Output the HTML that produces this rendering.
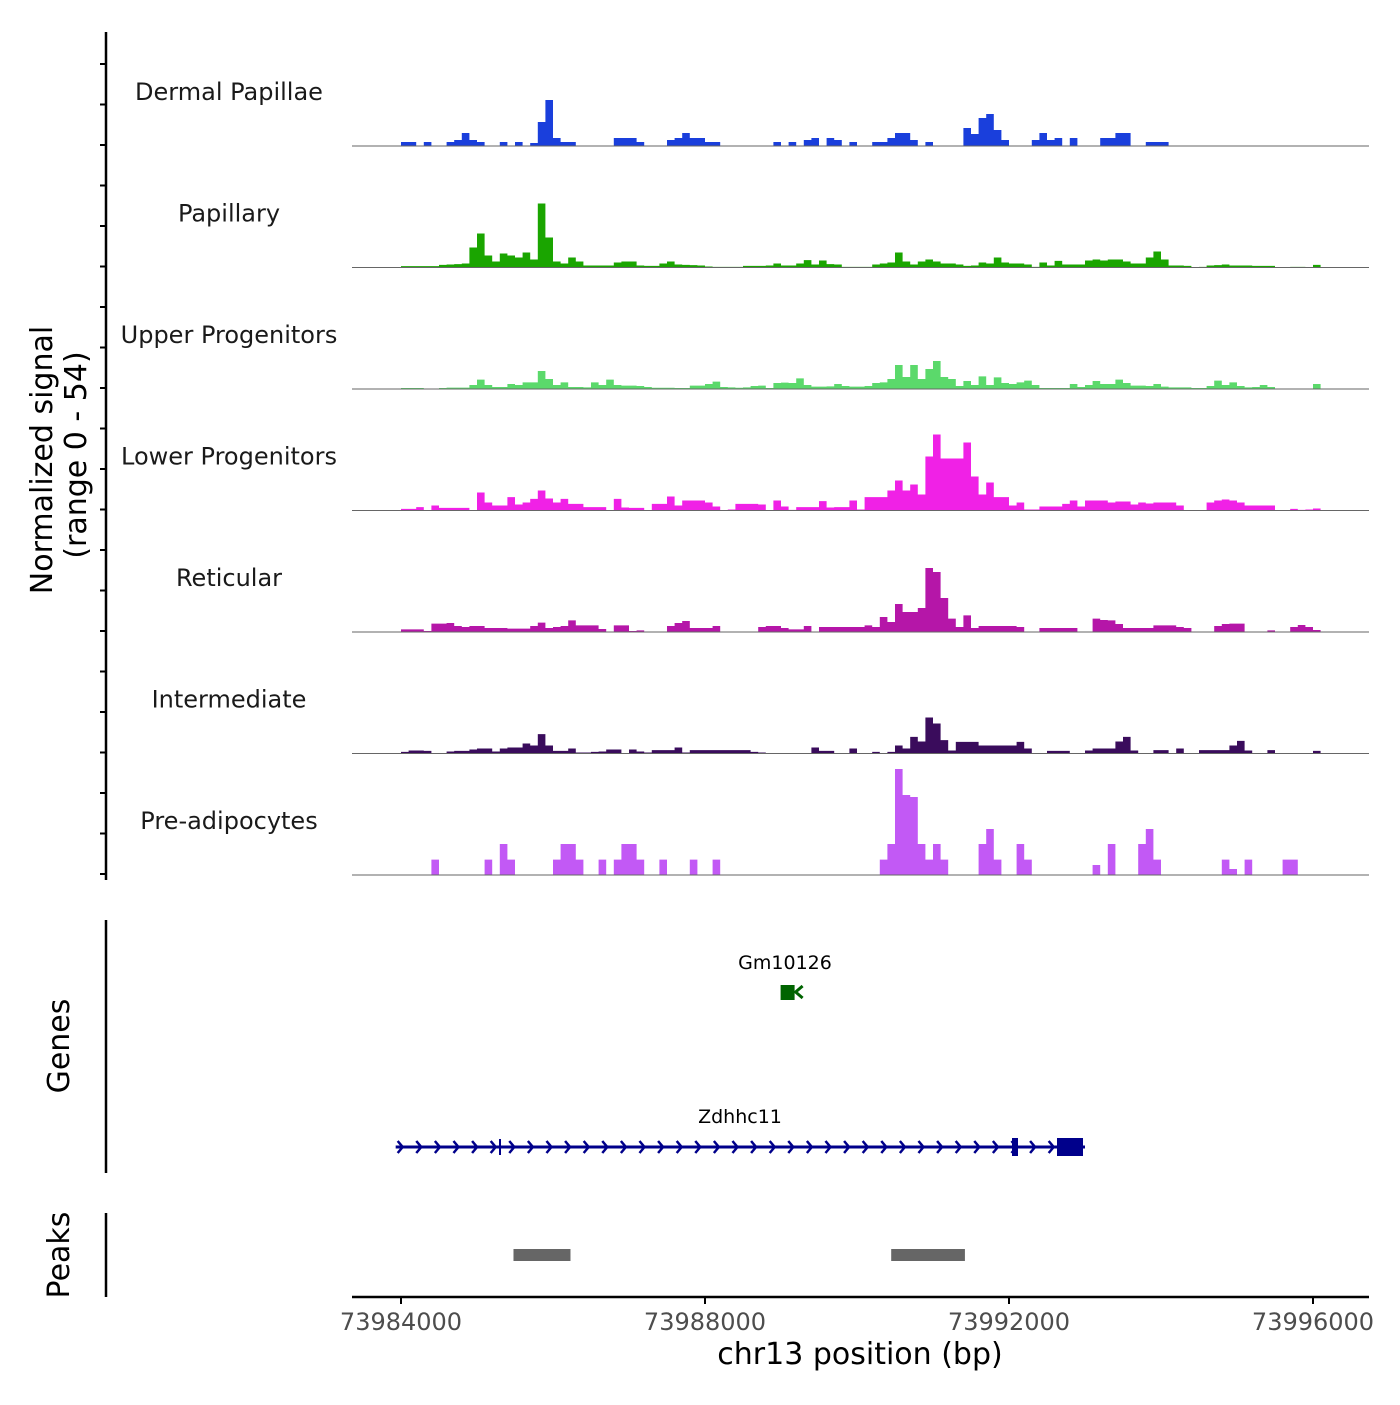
<!DOCTYPE html>
<html><head><meta charset="utf-8"><style>
body{margin:0;background:#fff}
svg text{font-family:"DejaVu Sans","Liberation Sans",sans-serif}
</style></head><body>
<svg id="chart" width="1400" height="1400" viewBox="0 0 1400 1400" xmlns="http://www.w3.org/2000/svg">
<g id="tracks"></g>
<g id="axes"></g>
<g id="genes"></g>
<g id="peaks"></g>
</svg>
<script>
// categories
const trackNames = ["Dermal Papillae","Papillary","Upper Progenitors","Lower Progenitors","Reticular","Intermediate","Pre-adipocytes"];
const trackColors = ["#1a3fdc","#1aa500","#5bd96b","#f021e6","#b516a8","#3a0c5c","#c259f5"];
const binStart = 73984000;
const binSize = 100;
const xTicks = [73984000,73988000,73992000,73996000];
const yMax = 54;
// signal per 100bp bin (values 0-54)
const dermalPapillae = [2,2,0,2,0,0,2,3,6.5,3, 2,0,0,2,0,2,0,1.5,12,23, 4,2,2,0,0,0,0,0,4,4, 4,2,0,0,0,3,4,6.5,4,4, 2,2,0,0,0,0,0,0,0,2, 0,2,0,3,4,0,4,3,0,2, 0,0,2,2,4,6.5,6.5,3,0,2, 0,0,0,0,9,6,14,16,8,3, 0,0,0,3,6.5,3,4,0,4,0, 0,0,4,4,6.5,6.5,0,0,2,2, 2,0,0,0,0,0,0,0,0,0, 0,0,0,0,0,0,0,0,0,0, 0];
const papillary = [0.7,0.7,0.7,0.7,0.7,1.3,1.5,1.7,2,10, 17,6,3,7,6,5,7.5,4,32,15, 3,2,5,3,1,1,1,1,2.5,3, 3,1,0.8,0.8,2,3,1.5,1.3,1.2,1, 0.5,0.3,0.3,0.3,0.3,0.8,0.8,0.8,1,2, 1,1,2,3.7,1.5,3.5,1.7,1.5,0.3,0.3, 0.3,0.3,1.5,2,2.5,7.5,3,1.5,3,4, 3,2,2,1.5,0.8,1,2.5,2,5,2.5, 2,2,1.5,0.3,2.5,1,3.3,1.5,1.5,1.5, 3.5,4,3.5,4,4,3,2,2,5,8, 4,1,1,0.8,0.2,0.3,1,1.2,1.5,1, 1,1,0.8,0.8,0.8,0,0,0.3,0.3,0.2, 1.3];
const upperProgenitors = [0.5,0.5,0.5,0,0,0.5,0.7,0.7,0.7,2, 4.7,2,1,1,2.5,2,3.3,3.3,9,5, 2,3.3,1,1,0.8,3.3,2,4.7,2,1.7, 1.7,1.5,1,0.6,0.6,0.6,0.5,0.5,1.7,1.7, 2.5,3.7,1,0.8,0.6,0.8,1.5,1.7,0.5,3, 3.2,3,5.3,2,1.2,1.2,1.3,2.5,1.5,1.2, 1.2,1.5,3,3.3,5,12,6,12,5,10, 14,6,5,1.5,4,2,6.3,2,5.8,3, 2.5,3.3,4.2,2,0.5,0.5,0.5,0.5,2.5,1, 2,4,2.5,2.5,4.7,3,1.7,1.7,1.5,2.5, 1.2,0.8,0.8,0.8,0.5,0.5,1.5,4.2,2,3.3, 1.5,0.8,1,2,1,0,0,0,0,0, 2.5];
const lowerProgenitors = [0.8,0.8,1.7,0,2.5,1.3,1.3,1.3,1.3,0, 9,4,2.5,2.5,6.7,3,4,5.8,10,6, 4,5.8,3.3,3.3,1.7,1.7,1.7,0,5.8,1.5, 1.3,1.3,0,3.3,3.3,7,2.5,5,5,5, 4,2,0,0.5,3.3,3.3,3.3,3,0,5, 2,0.3,1.7,1.7,1.7,4.7,1.5,1.7,1.7,5, 0.5,6.7,6.7,6.7,10,15,10,13,8,27, 38,26,26,26,34,17,8,14,6.7,6.7, 2.5,4,0.5,0.5,2,2,2,3.3,5,2, 5,5,5,4,4.5,4.5,3,4,3.5,4, 4,4,2.5,0,0,0,4,5,5.5,5, 4,2.5,2.5,2.5,2.5,0,0,0.8,0.3,0.5, 1];
const reticular = [1.3,1.3,1.3,0.5,4.2,4.2,4.5,3,2.5,3, 3,2,2,2,1.7,1.7,1.7,3,4.7,2, 2.5,3,5.8,3.3,3.3,3.3,1.5,0,3.3,3.3, 0.5,0.8,0,0,0,3,4.5,5.5,2,2, 2,3,0,0,0,0,0,2.5,3,3, 2,1.3,1.3,3,0,2.5,2.5,2.5,2.5,2.5, 2.5,3.3,2.5,7.5,5,14,10,10,12,32, 30,17,6.7,2.5,8.3,2,3,3,3,3, 3,2.5,0,0,2,2,2,2,2,0, 0,6.7,6,5.8,4,2,2,2,2,3.3, 3.3,3.3,2.5,2,0,0,0,3,4,4.2, 4.2,0,0,0,0.8,0,0,2.5,3.5,2.5, 1];
const intermediate = [0.8,1.5,1.5,1.3,0,0,1,1.3,1.3,2, 2.5,2.5,1,2.5,3,3,5,4,9.7,4, 1.3,1.3,2.5,0.5,0.5,0.8,1,2,2,0, 2,1,0.5,1.7,1.7,1.7,3,0.5,1.7,1.7, 1.7,1.7,1.7,1.7,1.7,1.7,0.8,0.5,0,0, 0,0,0,0,3,1.3,1.3,0,0,2.5, 0,0,0.8,0,0.8,4,2.5,8.3,6,18, 15,6.7,1.5,5.8,5.8,5.8,4,4,4,4, 4,5.8,2.5,0,0,1.3,1.3,1.3,0,0, 1.5,2.5,2.5,2.5,6,8.3,1.5,0,0,1.7, 1.7,0,2.5,0,0,1.7,1.7,1.7,1.7,4, 6.3,1.5,0,0,1.7,0,0,0,0,0, 1.3];
const preAdipocytes = [0,0,0,0,7.7,0,0,0,0,0, 0,7.7,0,15.5,7.7,0,0,0,0,0, 7.7,15.5,15.5,7.7,0,0,7.7,0,7.7,15.5, 15.5,7.7,0,0,7.7,0,0,0,7.7,0, 0,7.7,0,0,0,0,0,0,0,0, 0,0,0,0,0,0,0,0,0,0, 0,0,0,7.7,15.5,53,40,39,15.5,7.7, 15.5,7.7,0,0,0,0,15.5,23,7.7,0, 0,15.5,7.7,0,0,0,0,0,0,0, 0,5,0,15.5,0,0,0,15.5,23,7.7, 0,0,0,0,0,0,0,0,7.7,3, 0,7.7,0,0,0,0,7.7,7.7,0,0, 0];
const trackData = [dermalPapillae,papillary,upperProgenitors,lowerProgenitors,reticular,intermediate,preAdipocytes];
// genes / peaks
const geneNames = ["Gm10126","Zdhhc11"];
const geneStarts = [73989100,73983930];
const geneEnds = [73989350,73993000];
const peakStarts = [73985480,73990450];
const peakEnds = [73986230,73991420];

const NS="http://www.w3.org/2000/svg";
const X0=352,X1=1369;
const xS = bp => 401 + (bp-73984000)*0.076;
const baseY = i => 146 + i*121.5;
const yS = (i,v) => baseY(i) - v/yMax*108;
function mk(tag,attrs,parent){const e=document.createElementNS(NS,tag);for(const k in attrs)e.setAttribute(k,attrs[k]);parent.appendChild(e);return e;}

const tracks=document.getElementById('tracks');
trackData.forEach((arr,i)=>{
  let d=`M${xS(binStart)},${baseY(i)}`;
  arr.forEach((v,j)=>{
    const a=xS(binStart+j*binSize), b=xS(binStart+(j+1)*binSize);
    d+=`L${a.toFixed(1)},${yS(i,v).toFixed(1)}L${b.toFixed(1)},${yS(i,v).toFixed(1)}`;
  });
  d+=`L${xS(binStart+arr.length*binSize)},${baseY(i)}Z`;
  const p=mk('path',{d:d,fill:trackColors[i]},tracks);
  
  
  const l=mk('line',{x1:X0,x2:X1,y1:baseY(i),y2:baseY(i),stroke:'#666','stroke-width':1},tracks);
  
  
  const t=mk('text',{x:229,y:baseY(i)-46,'text-anchor':'middle','font-size':24,fill:'#1a1a1a'},tracks);
  t.textContent=trackNames[i];
  
  
});

const axes=document.getElementById('axes');
function axl(x1,y1,x2,y2,w,name){const e=mk('line',{x1,y1,x2,y2,stroke:'#000','stroke-width':w},axes);return e;}
axl(106,32,106,880,2.5,'y-axis-line');
for(let k=0;k<21;k++){const y=64+k*40.5;axl(100,y,106,y,2,'y-axis-tick');}
axl(106,920,106,1173,2.5,'genes-axis-line');
axl(106,1213,106,1297,2.5,'peaks-axis-line');
axl(352,1297,1369,1297,2.5,'x-axis-line');
xTicks.forEach(v=>{
  axl(xS(v),1297,xS(v),1304,2,'x-axis-tick');
  const t=mk('text',{x:xS(v),y:1330,'text-anchor':'middle','font-size':24,fill:'#4d4d4d'},axes);
  t.textContent=String(v);
  
  
});
function txt(x,y,s,size,rot,name){const t=mk('text',{x,y,'text-anchor':'middle','font-size':size,fill:'#000'},axes);if(rot)t.setAttribute('transform',`rotate(-90 ${x} ${y})`);t.textContent=s;}
txt(860,1364,'chr13 position (bp)',30,false,'x-axis-title');
txt(52,460,'Normalized signal',30,true,'y-axis-title');
txt(86,455,'(range 0 - 54)',30,true,'y-axis-subtitle');
txt(69,1046,'Genes',30,true,'genes-axis-title');
txt(69,1255,'Peaks',30,true,'peaks-axis-title');

const genes=document.getElementById('genes');
// Gm10126
{
  const x1=xS(geneStarts[0]);
  const r=mk('rect',{x:x1-8,y:985,width:14,height:15,fill:'#006400'},genes);
  
  const a=mk('path',{d:`M${x1+14},${986}L${x1+7},${992}L${x1+14},${998}`,stroke:'#006400','stroke-width':3,fill:'none'},genes);
  
  const t=mk('text',{x:785,y:969,'text-anchor':'middle','font-size':19,fill:'#000'},genes);
  t.textContent=geneNames[0];
}
// Zdhhc11
{
  const x1=xS(geneStarts[1]),x2=xS(geneEnds[1]);const y=1147;
  const l=mk('line',{x1:x1,x2:x2,y1:y,y2:y,stroke:'#00008b','stroke-width':3},genes);
  
  let d='';for(let x=x1+2;x<x2-30;x+=18.6){d+=`M${x},${y-6}L${x+5},${y}L${x},${y+6}`;}
  const a=mk('path',{d:d,stroke:'#00008b','stroke-width':2.5,fill:'none'},genes);
  
  [[499,2,16],[1012,6,18],[1057,26,18]].forEach(e=>{const r=mk('rect',{x:e[0],y:y-e[2]/2,width:e[1],height:e[2],fill:'#00008b'},genes);});
  const t=mk('text',{x:740,y:1123,'text-anchor':'middle','font-size':19,fill:'#000'},genes);
  t.textContent=geneNames[1];
}
const peaks=document.getElementById('peaks');
peakStarts.forEach((s,i)=>{
  const r=mk('rect',{x:xS(s),y:1249,width:xS(peakEnds[i])-xS(s),height:12,fill:'#666'},peaks);
  
  
});
</script>
</body></html>
